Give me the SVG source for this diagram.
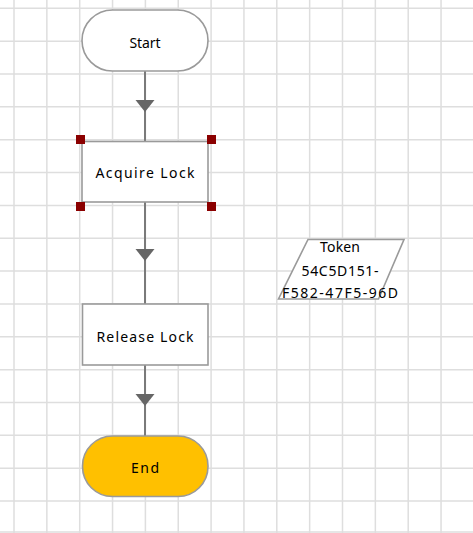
<svg xmlns="http://www.w3.org/2000/svg" width="473" height="533" viewBox="0 0 473 533">
  <style>
    .grid { stroke: #dedede; stroke-width: 1.5; fill: none; }
    .node { fill: #ffffff; stroke: #9a9a9a; stroke-width: 1.6; }
    .end { fill: #ffc000; stroke: #9a9a9a; stroke-width: 1.6; }
    .lbl { font-family: "Noto Sans", "DejaVu Sans", sans-serif; font-size: 14px; fill: #000; text-anchor: middle; }
    .conn { stroke: #7a7a7a; stroke-width: 2; fill: none; }
    .head { fill: #666; }
    .handle { fill: #8b0000; }
  </style>
  <rect width="473" height="533" fill="#ffffff"/>
  <g id="grid">
    <path class="grid" d="M14,0V533 M46.85,0V533 M79.7,0V533 M112.55,0V533 M145.4,0V533 M178.25,0V533 M211.1,0V533 M243.95,0V533 M276.8,0V533 M309.65,0V533 M342.5,0V533 M375.35,0V533 M408.2,0V533 M441.05,0V533
      M0,8.3H473 M0,41.15H473 M0,74H473 M0,106.85H473 M0,139.7H473 M0,172.55H473 M0,205.4H473 M0,238.25H473 M0,271.1H473 M0,303.95H473 M0,336.8H473 M0,369.65H473 M0,402.5H473 M0,435.35H473 M0,468.2H473 M0,501.05H473 M0,532H473"/>
  </g>
  <g id="connectors">
    <path class="conn" d="M145,71 V141"/>
    <path class="head" d="M135.5,100 L154.5,100 L145,112 Z"/>
    <path class="conn" d="M145,202 V304"/>
    <path class="head" d="M135.5,249 L154.5,249 L145,261 Z"/>
    <path class="conn" d="M145,365 V436"/>
    <path class="head" d="M135.5,394 L154.5,394 L145,406 Z"/>
  </g>
  <g id="start">
    <rect class="node" x="82" y="10" width="126" height="61" rx="30.5" ry="30.5"/>
    <text class="lbl" x="145" y="47.5" textLength="31" lengthAdjust="spacing">Start</text>
  </g>
  <g id="acquire-lock">
    <rect class="node" x="82" y="141.5" width="126" height="60.5"/>
    <text class="lbl" x="145" y="178" textLength="99" lengthAdjust="spacing">Acquire Lock</text>
    <rect class="handle" x="76" y="135" width="9" height="9"/>
    <rect class="handle" x="207" y="135" width="9" height="9"/>
    <rect class="handle" x="76" y="202" width="9" height="9"/>
    <rect class="handle" x="207" y="202" width="9" height="9"/>
  </g>
  <g id="release-lock">
    <rect class="node" x="82.5" y="304" width="125.5" height="61"/>
    <text class="lbl" x="145" y="341.5" textLength="97" lengthAdjust="spacing">Release Lock</text>
  </g>
  <g id="end">
    <rect class="end" x="82.5" y="436" width="125.5" height="60.5" rx="30" ry="30"/>
    <text class="lbl" x="145" y="472.5" textLength="28" lengthAdjust="spacing">End</text>
  </g>
  <g id="token">
    <polygon class="node" points="308,239.5 404,239.5 378.5,299 278.5,299"/>
    <text class="lbl" x="340" y="252" textLength="40" lengthAdjust="spacing">Token</text>
    <text class="lbl" x="340" y="276" textLength="77" lengthAdjust="spacing">54C5D151-</text>
    <text class="lbl" x="340" y="298" textLength="116" lengthAdjust="spacing">F582-47F5-96D</text>
  </g>
</svg>
